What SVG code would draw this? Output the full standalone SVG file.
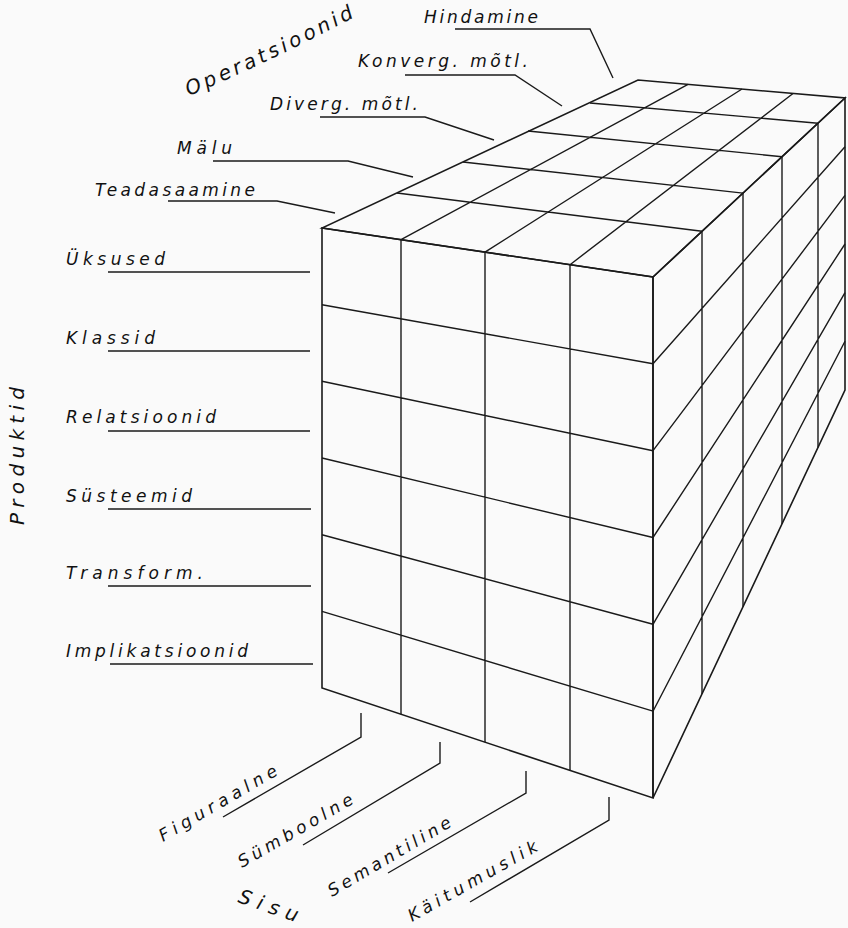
<svg xmlns="http://www.w3.org/2000/svg" width="848" height="928" viewBox="0 0 848 928">
<style>
.edge{fill:none;stroke:#1a1a1a;stroke-width:1.6;stroke-linejoin:miter}
.grid{fill:none;stroke:#1a1a1a;stroke-width:1.4}
.lead{fill:none;stroke:#1a1a1a;stroke-width:1.4}
.lbl{font-family:"DejaVu Sans","Liberation Sans",sans-serif;font-style:italic;font-size:17px;fill:#111}
.big{font-size:20px}
</style>
<defs>
<path id="opPath" d="M189,96 Q272,61 364,12"/>
</defs>
<rect width="848" height="928" fill="#fafafa"/>

<g id="cube">
  <g id="front-face">
    <polygon class="edge" points="322,228 653,277 653,798 322,688"/>
    <path class="grid" d="M322,304.7L653,363.8 M322,381.3L653,450.7 M322,458L653,537.5 M322,534.7L653,624.3 M322,611.3L653,711.2
      M401,239.7L401,714.3 M485,252.1L485,742.2 M570,264.7L570,770.4"/>
  </g>
  <g id="right-face">
    <polygon class="edge" points="653,277 845,98 845,390 653,798"/>
    <path class="grid" d="M702,231.3L702,693.9 M743,193.1L743,606.8 M782,156.7L782,523.9 M818,123.2L818,447.4
      M653,363.8L845,146.7 M653,450.7L845,195.3 M653,537.5L845,244 M653,624.3L845,292.7 M653,711.2L845,341.3"/>
  </g>
  <g id="top-face">
    <polygon class="edge" points="322,228 653,277 845,98 638,80"/>
    <path class="grid" d="M397,193L702,231.3 M463,162L743,193.1 M528,131L782,156.7 M590,103L818,123.2
      M401,239.7L688,84.3 M485,252.1L742,89 M570,264.7L793,93.5"/>
  </g>
</g>

<g id="connectors">
  <polyline class="lead" points="455,29 590,29 613,78"/>
  <polyline class="lead" points="405,75 515,75 562,106"/>
  <polyline class="lead" points="320,117 425,117 494,140"/>
  <polyline class="lead" points="213,161 348,161 413,177"/>
  <polyline class="lead" points="168,201 277,201 335,213"/>
  <line class="lead" x1="108" y1="272" x2="310" y2="272"/>
  <line class="lead" x1="108" y1="351" x2="310" y2="351"/>
  <line class="lead" x1="108" y1="431" x2="310" y2="431"/>
  <line class="lead" x1="108" y1="509" x2="311" y2="509"/>
  <line class="lead" x1="108" y1="586" x2="311" y2="586"/>
  <line class="lead" x1="110" y1="664" x2="313" y2="664"/>
  <polyline class="lead" points="361,713 361,737 223,817"/>
  <polyline class="lead" points="440,742 440,763 303,845"/>
  <polyline class="lead" points="526,771 526,793 388,873"/>
  <polyline class="lead" points="609,797 609,820 470,902"/>
</g>

<g id="label-operatsioonid"><text class="lbl big" letter-spacing="3.6"><textPath href="#opPath">Operatsioonid</textPath></text></g>
<g id="label-hindamine"><text class="lbl" x="424" y="23" textLength="114" lengthAdjust="spacing">Hindamine</text></g>
<g id="label-konverg"><text class="lbl" x="358" y="67" textLength="170" lengthAdjust="spacing">Konverg. mõtl.</text></g>
<g id="label-diverg"><text class="lbl" x="270" y="110" textLength="148" lengthAdjust="spacing">Diverg. mõtl.</text></g>
<g id="label-malu"><text class="lbl" x="177" y="154" textLength="55" lengthAdjust="spacing">Mälu</text></g>
<g id="label-teadasaamine"><text class="lbl" x="95" y="196" textLength="160" lengthAdjust="spacing">Teadasaamine</text></g>

<g id="label-produktid"><text class="lbl big" transform="translate(24,525) rotate(-90)" textLength="138" lengthAdjust="spacing">Produktid</text></g>
<g id="label-uksused"><text class="lbl" x="66" y="265" textLength="99" lengthAdjust="spacing">Üksused</text></g>
<g id="label-klassid"><text class="lbl" x="66" y="344" textLength="89" lengthAdjust="spacing">Klassid</text></g>
<g id="label-relatsioonid"><text class="lbl" x="66" y="423" textLength="150" lengthAdjust="spacing">Relatsioonid</text></g>
<g id="label-susteemid"><text class="lbl" x="66" y="502" textLength="126" lengthAdjust="spacing">Süsteemid</text></g>
<g id="label-transform"><text class="lbl" x="66" y="579" textLength="137" lengthAdjust="spacing">Transform.</text></g>
<g id="label-implikatsioonid"><text class="lbl" x="66" y="657" textLength="182" lengthAdjust="spacing">Implikatsioonid</text></g>

<g id="label-figuraalne"><text class="lbl" transform="translate(163,842) rotate(-30.3)" textLength="134" lengthAdjust="spacing">Figuraalne</text></g>
<g id="label-symboolne"><text class="lbl" transform="translate(242,868) rotate(-30)" textLength="130" lengthAdjust="spacing">Sümboolne</text></g>
<g id="label-semantiline"><text class="lbl" transform="translate(332,897) rotate(-30.5)" textLength="140" lengthAdjust="spacing">Semantiline</text></g>
<g id="label-kaitumuslik"><text class="lbl" transform="translate(412,922) rotate(-29.5)" textLength="146" lengthAdjust="spacing">Käitumuslik</text></g>
<g id="label-sisu"><text class="lbl big" transform="translate(237,902) rotate(19)" textLength="62" lengthAdjust="spacing">Sisu</text></g>
</svg>
